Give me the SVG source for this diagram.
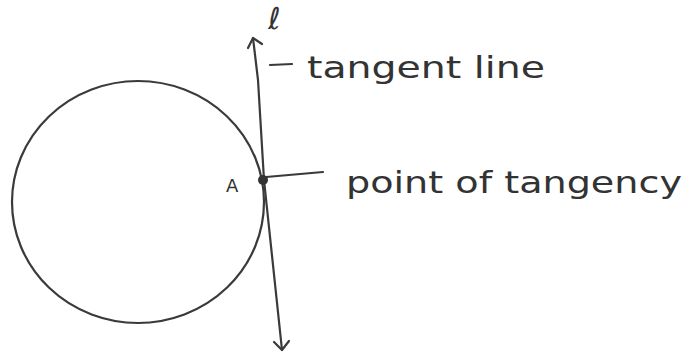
<svg xmlns="http://www.w3.org/2000/svg" width="684" height="354" viewBox="0 0 684 354">
<style>
.ink{fill:none;stroke:#3a3a3a;stroke-width:2.2;stroke-linecap:round;stroke-linejoin:round}
.txt{fill:#333;font-family:"DejaVu Sans","Liberation Sans",sans-serif}
</style>
<rect width="684" height="354" fill="#fff"/>
<g id="circle">
<ellipse class="ink" cx="138" cy="202" rx="126" ry="121"/>
</g>
<g id="connectors">
<path id="tangent" class="ink" stroke-width="2.6" d="M253,38 L258,80 L264,180 L282,350"/>
<path class="ink" stroke-width="2.6" d="M248,48 L253,38 L262,44"/>
<path class="ink" stroke-width="2.6" d="M274,342 L282,350 L289,341"/>
<path class="ink" d="M266,177 L323,172"/>
<path class="ink" d="M270,65 L292,64"/>
</g>
<g id="pointA">
<circle cx="263" cy="180" r="5" fill="#333"/>
<text class="txt" x="226" y="192" font-size="18">A</text>
</g>
<g id="labels">
<text class="txt" x="268" y="29" font-size="30" font-style="italic">ℓ</text>
<text class="txt" x="307" y="78" font-size="30" textLength="238" lengthAdjust="spacingAndGlyphs">tangent line</text>
<text class="txt" x="346" y="193" font-size="30" textLength="336" lengthAdjust="spacingAndGlyphs">point of tangency</text>
</g>
</svg>
